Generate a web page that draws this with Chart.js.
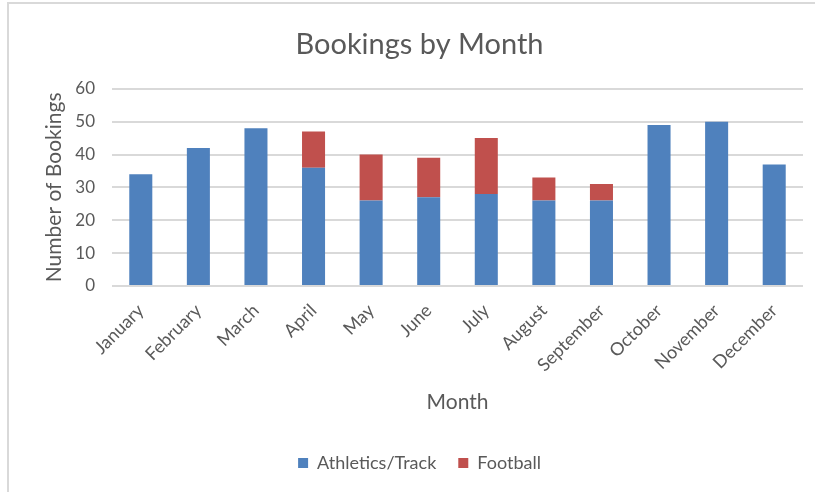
<!DOCTYPE html>
<html>
<head>
<meta charset="utf-8">
<script src="https://cdn.jsdelivr.net/npm/chart.js@4"></script>
<style>
  html, body { margin: 0; padding: 0; background: #fff; }
  #frame { position: absolute; left: 7px; top: 2px; width: 830px; height: 520px; border: 2px solid #d9d9d9; box-sizing: border-box; }
  #wrap { position: absolute; left: 0; top: 0; width: 815px; height: 492px; }
</style>
</head>
<body>
<div id="frame"></div>
<div id="wrap"><canvas id="bookingsChart" width="815" height="492"></canvas></div>
<script>
// datos
const months = ['January', 'February', 'March', 'April', 'May', 'June', 'July',
  'August', 'September', 'October', 'November', 'December'];
const athletics = [34, 42, 48, 36, 26, 27, 28, 26, 26, 49, 50, 37];
const football = [0, 0, 0, 11, 14, 12, 17, 7, 5, 0, 0, 0];
const yTicks = [0, 10, 20, 30, 40, 50, 60];

const textColor = '#595959';
const gridColor = '#d9d9d9';
const fontFamily = 'Lato, "Noto Sans", sans-serif';

Chart.defaults.font.family = fontFamily;
Chart.defaults.color = textColor;

const canvas = document.getElementById('bookingsChart');

new Chart(canvas, {
  type: 'bar',
  data: {
    labels: months,
    datasets: [
      {
        label: 'Athletics/Track',
        data: athletics,
        backgroundColor: '#4f81bd',
        barPercentage: 0.4,
        categoryPercentage: 1
      },
      {
        label: 'Football',
        data: football,
        backgroundColor: '#c0504d',
        barPercentage: 0.4,
        categoryPercentage: 1
      }
    ]
  },
  options: {
    responsive: false,
    animation: false,
    // el grafico original es mas ancho que la captura: centrar titulo y leyenda a la derecha
    layout: { padding: { left: 36, right: 12, top: 0, bottom: 10 } },
    plugins: {
      title: {
        display: true,
        text: 'Bookings by Month',
        color: textColor,
        font: { size: 29, weight: 'normal' },
        padding: { top: 27, bottom: 27 }
      },
      legend: {
        position: 'bottom',
        labels: {
          boxWidth: 10,
          boxHeight: 10,
          padding: 22,
          color: textColor,
          font: { size: 18 }
        }
      },
      tooltip: { enabled: false }
    },
    scales: {
      x: {
        stacked: true,
        grid: { display: false },
        border: { display: false },
        ticks: {
          minRotation: 45,
          maxRotation: 45,
          padding: 6,
          color: textColor,
          font: { size: 18 }
        },
        title: {
          display: true,
          text: 'Month',
          color: textColor,
          font: { size: 21 },
          padding: { top: 0, bottom: 17 }
        },
        afterFit: function(scale) { scale.height = 146; }
      },
      y: {
        stacked: true,
        min: 0,
        max: 60,
        afterBuildTicks: function(scale) {
          scale.ticks = yTicks.map(v => ({ value: v }));
        },
        grid: { color: gridColor, lineWidth: 2, drawTicks: false },
        border: { display: false },
        ticks: {
          padding: 17,
          color: textColor,
          font: { size: 17 }
        },
        title: {
          display: true,
          text: 'Number of Bookings',
          color: textColor,
          font: { size: 21 },
          padding: { top: 6, bottom: 0 }
        },
        afterFit: function(scale) { scale.width = 76; }
      }
    }
  }
});
</script>
</body>
</html>
